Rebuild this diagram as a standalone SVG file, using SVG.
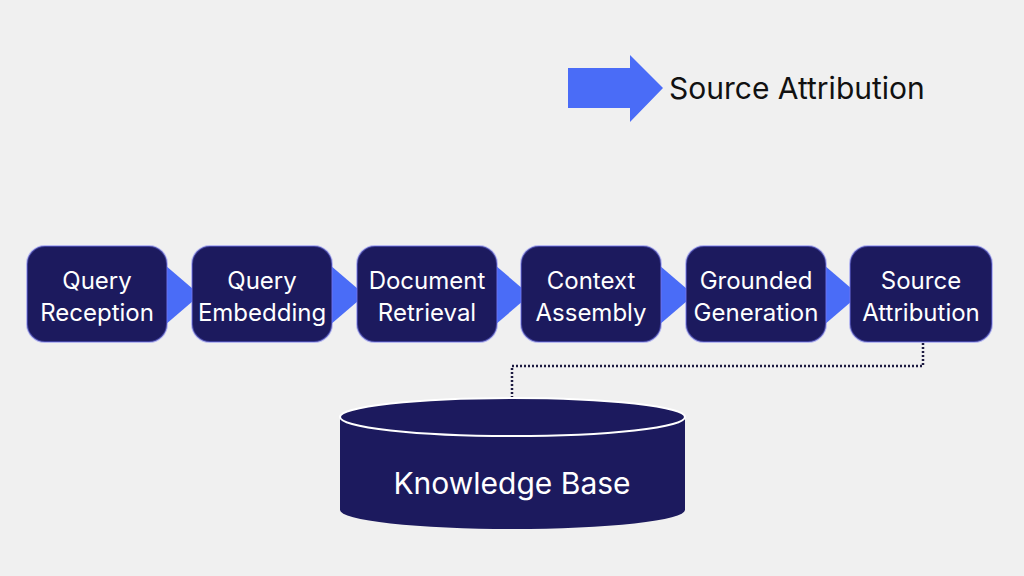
<svg xmlns="http://www.w3.org/2000/svg" width="1024" height="576" viewBox="0 0 1024 576">
<defs>
<style>
.box{fill:#1c1a5e;stroke:#6f73f0;stroke-opacity:.45;stroke-width:2}
.lbl{font-family:Inter,"Liberation Sans",sans-serif;font-size:24px;fill:#fff;text-anchor:middle}
.arr{fill:#4a6cf7}
</style>
<marker id="ah" markerWidth="8" markerHeight="8" refX="4" refY="4" orient="auto" markerUnits="userSpaceOnUse"><path d="M0,0 L8,4 L0,8 Z" fill="#4a6cf7"/></marker>
</defs>
<rect width="1024" height="576" fill="#f0f0f0"/>
<g id="legend">
<polygon class="arr" points="568,68 630,68 630,55 663,88 630,122 630,108 568,108"/>
<text x="669" y="99" font-family="Inter,'Liberation Sans',sans-serif" font-size="30" fill="#111">Source Attribution</text>
</g>
<g id="connectors">
<polygon class="arr" points="165,265 200,295 165,325"/>
<polygon class="arr" points="330,265 365,295 330,325"/>
<polygon class="arr" points="495,265 530,295 495,325"/>
<polygon class="arr" points="659,265 694,295 659,325"/>
<polygon class="arr" points="824,265 859,295 824,325"/>
<polyline points="923,343 923,366 512,366 512,416" fill="none" stroke="#1c1a40" stroke-width="2.5" stroke-dasharray="2,2" marker-end="url(#ah)"/>
</g>
<g id="n1"><rect class="box" x="27" y="246" width="140" height="96" rx="18"/><text class="lbl" x="97" y="289">Query</text><text class="lbl" x="97" y="321">Reception</text></g>
<g id="n2"><rect class="box" x="192" y="246" width="140" height="96" rx="18"/><text class="lbl" x="262" y="289">Query</text><text class="lbl" x="262" y="321">Embedding</text></g>
<g id="n3"><rect class="box" x="357" y="246" width="140" height="96" rx="18"/><text class="lbl" x="427" y="289">Document</text><text class="lbl" x="427" y="321">Retrieval</text></g>
<g id="n4"><rect class="box" x="521" y="246" width="140" height="96" rx="18"/><text class="lbl" x="591" y="289">Context</text><text class="lbl" x="591" y="321">Assembly</text></g>
<g id="n5"><rect class="box" x="686" y="246" width="140" height="96" rx="18"/><text class="lbl" x="756" y="289">Grounded</text><text class="lbl" x="756" y="321">Generation</text></g>
<g id="n6"><rect class="box" x="850" y="246" width="142" height="96" rx="18"/><text class="lbl" x="921" y="289">Source</text><text class="lbl" x="921" y="321">Attribution</text></g>
<g id="kb">
<path d="M340,417 L340,510 A172.5,19 0 0 0 685,510 L685,417 Z" fill="#1c1a5e"/>
<ellipse cx="512.5" cy="417" rx="172.5" ry="19" fill="#1c1a5e" stroke="#fff" stroke-width="2"/>
<text x="512" y="494" font-family="Inter,'Liberation Sans',sans-serif" font-size="30" fill="#fff" text-anchor="middle">Knowledge Base</text>
</g>
</svg>
